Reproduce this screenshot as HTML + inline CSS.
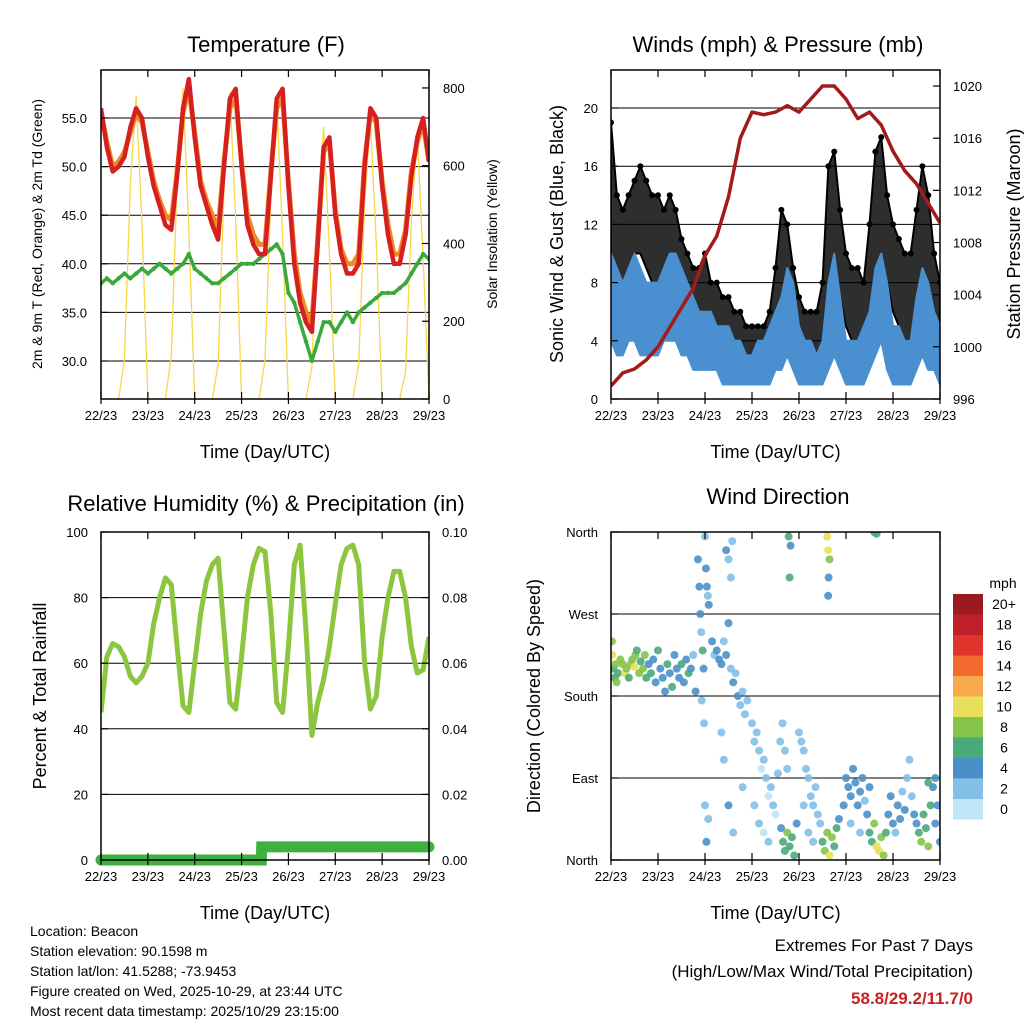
<!DOCTYPE html>
<html><head><meta charset="utf-8"><style>
body{margin:0;background:#fff}
svg{display:block;font-family:"Liberation Sans",sans-serif}
</style></head><body>
<svg id="s" width="1024" height="1024" viewBox="0 0 1024 1024"></svg>
<script>
// ---------- data (3-hourly from 22/23, day offsets) ----------
const dayLabels=["22/23","23/23","24/23","25/23","26/23","27/23","28/23","29/23"];
const tempRed=[56,52,49.5,50,51,54,56,55,51,48,46,44,43.5,49,56,59,53,48,46,44,42.5,50,57,58,50,44,42,41,41,49,57,58,48,40,36,34,33,42,52,53,45,41,39,39,40,50,56,55,48,43,40,40,43,49,53,55,50.5];
const tempOrange=[55.5,52.5,50,50.5,51.5,53.5,55.5,54.5,51.5,48.5,46.5,45,44.5,49.5,55.5,58,53.5,48.5,46.5,45,43.5,50.5,56,57,50.5,45,43,42,42,49.5,56,57,48.5,41,37,35,34,42.5,51.5,52.5,45.5,41.5,40,40,41,50.5,55.5,54.5,48.5,44,41,41,43.5,49.5,52.5,54.5,50.5];
const dewGreen=[38,38.5,38,38.5,39,38.5,39,39.5,39,39.5,40,39.5,39,39.5,40,41,39.5,39,38.5,38,38,38.5,39,39.5,40,40,40,40.5,41,41.5,42,41,37,36,34,32,30,32,34,34,33,34,35,34,35,35.5,36,36.5,37,37,37,37.5,38,39,40,41,40.5];
const solar=[0,0,0,0,100,550,780,450,0,0,0,0,110,560,800,430,0,0,0,0,90,540,790,460,0,0,0,0,100,520,770,420,0,0,0,0,80,480,700,380,0,0,0,0,90,500,720,400,0,0,0,0,70,460,680,360,0];
const windHi=[10,9,8,9,10,9,8,8,8,9,10,10,9,8,7,6,6,6,5,5,5,4,4,3,3,4,4,5,6,7,9,8,5,4,4,3,4,8,10,7,4,4,4,5,6,9,10,8,5,5,4,4,7,9,8,6,5];
const windLo=[4,3,3,4,4,3,3,3,3,4,4,4,3,3,2,2,2,2,2,1,1,1,1,1,1,1,1,1,2,2,3,2,1,1,1,1,1,2,3,2,1,1,1,1,2,3,4,2,1,1,1,1,2,3,2,2,1];
const gustHi=[19,14,13,14,15,16,15,14,14,13,14,13,11,10,9,9,10,8,8,7,7,6,6,5,5,5,5,6,9,13,12,9,7,6,6,6,8,16,17,13,10,9,9,8,12,17,18,14,12,11,10,10,13,16,14,10,8];
const gustLo=[10,8,8,9,10,10,9,8,8,8,9,9,8,7,6,5,5,4,4,3,3,3,2,2,2,3,3,3,5,7,7,5,4,3,3,2,4,8,10,7,5,4,4,4,6,9,10,8,6,5,4,4,6,9,8,6,4];
const pressure=[997,998,998.3,999,1000,1001.5,1003,1004.5,1007,1008.5,1011.5,1016,1018,1017.8,1018,1018.5,1018,1019,1020,1020,1019,1017.5,1018,1017,1015,1013.5,1012.5,1011,1009.5]; // 6-hourly
const rh=[45,62,66,65,62,56,54,56,60,72,80,86,84,65,47,45,60,75,85,90,92,70,48,46,62,80,90,95,94,75,48,45,65,90,96,70,38,48,55,65,78,90,95,96,90,60,46,50,68,80,88,88,80,65,57,58,68];
const precipT=[0,3.42,3.43,7];
const precipV=[0,0,0.004,0.004];
const wdT=[0.02,0.03,0.05,0.08,0.1,0.12,0.15,0.2,0.25,0.3,0.33,0.38,0.42,0.45,0.5,0.52,0.55,0.6,0.63,0.68,0.72,0.75,
0.8,0.85,0.9,0.95,1.0,1.05,1.1,1.15,1.2,1.25,1.3,1.35,1.4,1.45,1.5,1.55,1.6,1.65,1.7,1.75,1.8,
1.85,1.88,1.9,1.92,1.95,1.97,2.0,2.02,2.04,2.06,2.08,1.93,1.98,2.0,2.03,2.07,
2.15,2.2,2.25,2.3,2.35,2.4,2.45,2.5,2.55,2.6,2.65,2.7,2.75,2.8,2.85,2.9,2.45,2.5,2.55,2.58,2.35,2.4,2.5,2.6,2.8,
3.0,3.05,3.1,3.15,3.2,3.25,3.3,3.35,3.4,3.45,3.5,3.55,3.6,3.65,3.7,3.75,3.05,3.15,3.25,3.35,
3.62,3.66,3.7,3.75,3.8,3.85,3.9,3.95,3.78,3.82,3.8,
4.0,4.05,4.1,4.15,4.2,4.25,4.3,4.35,4.4,4.45,4.1,4.2,4.3,
4.5,4.55,4.6,4.65,4.7,4.75,4.8,4.85,4.6,4.62,4.65,4.63,4.62,
4.95,5.0,5.05,5.1,5.15,5.2,5.25,5.3,5.35,5.4,5.45,5.5,5.1,5.3,
5.5,5.55,5.6,5.65,5.7,5.75,5.8,5.85,5.6,5.65,
5.9,5.95,6.0,6.05,6.1,6.15,6.2,6.25,6.3,6.35,6.4,6.45,
6.5,6.55,6.6,6.65,6.7,6.75,6.8,6.85,6.9,6.95,7.0,6.75,6.9];
const wdD=[240,225,210,200,215,195,205,220,215,205,210,200,215,220,212,225,230,205,218,210,225,200,
215,205,220,195,230,210,200,185,215,205,190,225,210,200,215,195,220,205,210,225,185,
330,300,270,250,230,210,355,320,300,290,280,175,150,60,20,45,
240,225,230,220,215,240,225,260,210,195,205,180,170,185,160,175,340,330,310,350,140,110,60,30,80,
150,130,140,120,100,110,90,70,80,60,50,95,130,150,120,100,60,40,30,20,
35,20,10,30,15,25,5,40,355,345,310,
140,130,120,100,90,70,60,80,50,40,60,30,20,
20,10,30,5,25,15,35,45,355,340,330,310,290,
60,90,80,70,100,85,60,75,90,65,50,80,40,30,
30,20,40,15,10,25,5,30,360,358,
50,70,40,30,60,45,75,55,90,110,70,50,
40,30,20,50,35,15,60,80,40,60,20,85,90];
const wdS=[9,10,7,6,8,8,7,8,9,10,8,7,8,9,10,8,7,8,6,9,8,6,
5,6,5,4,6,4,5,4,6,5,6,4,5,4,6,5,4,6,4,3,4,
4,4,4,3,6,4,3,4,4,3,4,3,2,3,4,2,
4,3,4,4,4,3,4,4,3,4,3,4,3,2,3,2,4,3,2,2,3,2,4,2,3,
3,2,2,3,1,2,2,1,2,3,1,2,2,2,3,2,2,3,1,3,
5,6,7,8,6,7,6,5,6,5,6,
2,2,3,2,2,3,2,2,3,2,3,2,3,
6,8,9,10,8,7,6,5,10,10,8,5,4,
4,4,4,4,4,4,4,5,4,3,4,4,2,3,
6,7,8,10,11,9,8,6,7,6,
4,4,4,3,4,4,3,4,3,2,3,4,
5,7,8,6,7,8,6,4,5,4,4,7,4];
const speedBins=["0","2","4","6","8","10","12","14","16","18","20+"];
const speedColors=["#bfe6f7","#84bfe8","#4a90c8","#4aaa78","#84c44a","#e8e05a","#f8a94b","#f26a2d","#e0342c","#c0202a","#9b1a1f"];

// ---------- helpers ----------
const NS="http://www.w3.org/2000/svg";
const S=document.getElementById('s');
function mk(tag,attrs,parent){const e=document.createElementNS(NS,tag);for(const k in attrs)e.setAttribute(k,attrs[k]);(parent||S).appendChild(e);return e;}
function txt(x,y,str,size,anchor,parent,extra){const e=mk('text',Object.assign({x:x,y:y,'font-size':size,'text-anchor':anchor||'middle',fill:'#000'},extra||{}),parent);e.textContent=str;return e;}
function line(x1,y1,x2,y2,w,parent){return mk('line',{x1:x1,y1:y1,x2:x2,y2:y2,stroke:'#000','stroke-width':w||1},parent);}

function panel(id,X0,Y0,X1,Y1){
  const g=mk('g',{});
  
  
  const cp=mk('clipPath',{id:id+'-clip'},g);mk('rect',{x:X0,y:Y0,width:X1-X0,height:Y1-Y0},cp);
  return g;
}
function frame(g,X0,Y0,X1,Y1){
  const r=mk('rect',{x:X0,y:Y0,width:X1-X0,height:Y1-Y0,fill:'none',stroke:'#000','stroke-width':1.5},g);
  
  
  const xs=d=>X0+d*(X1-X0)/7;
  for(let i=0;i<dayLabels.length;i++){
    const x=xs(i);
    line(x,Y1,x,Y1-7,1.2,g);line(x,Y0,x,Y0+7,1.2,g);
    line(x,Y1,x,Y1+5,1.2,g);
    const t=txt(x,Y1+21,dayLabels[i],13,'middle',g);
    
    
  }
  const xt=txt((X0+X1)/2,Y1+59,'Time (Day/UTC)',18,'middle',g);
  
  
}
function hgrid(g,X0,X1,ys){ys.forEach(y=>{const l=line(X0,y,X1,y,1,g);});}
function rotText(x,y,str,size,g){const t=txt(x,y,str,size,'middle',g,{transform:`rotate(-90 ${x} ${y})`});return t;}
function polyl(pts,attrs,g){return mk('polyline',Object.assign({points:pts.map(p=>p[0].toFixed(1)+','+p[1].toFixed(1)).join(' '),fill:'none'},attrs),g);}

// ================= Panel 1: Temperature =================
(function(){
  const X0=101,X1=429,Y0=70,Y1=399;
  const g=panel('temperature',X0,Y0,X1,Y1);
  const xs=d=>X0+d*(X1-X0)/7;
  const yT=v=>361-(v-30)*9.72;
  const ySol=v=>399-v*0.3888;
  const tLabels=[30,35,40,45,50,55];
  const solLabels=[0,200,400,600,800];
  hgrid(g,X0,X1,tLabels.map(yT));
  const c=mk('g',{'clip-path':'url(#temperature-clip)'},g);
  const sol=polyl(solar.map((v,i)=>[xs(i/8),ySol(v)]),{stroke:'#f7d84a','stroke-width':1.3},c);
  
  
  const dp=polyl(dewGreen.map((v,i)=>[xs(i/8),yT(v)]),{stroke:'#3aa83a','stroke-width':3.5,'stroke-linejoin':'round'},c);
  
  
  dewGreen.forEach((v,i)=>{const d=mk('circle',{cx:xs(i/8),cy:yT(v),r:2.2,fill:'#3aa83a'},c);});
  const o=polyl(tempOrange.map((v,i)=>[xs(i/8),yT(v)]),{stroke:'#f08a24','stroke-width':5,'stroke-linejoin':'round'},c);
  
  
  const r=polyl(tempRed.map((v,i)=>[xs(i/8),yT(v)]),{stroke:'#d62020','stroke-width':4.5,'stroke-linejoin':'round'},c);
  
  
  frame(g,X0,Y0,X1,Y1);
  tLabels.forEach(v=>{const y=yT(v);line(X0,y,X0+7,y,1.2,g);const t=txt(X0-14,y+5,v.toFixed(1),13,'end',g);});
  solLabels.forEach(v=>{const y=ySol(v);line(X1,y,X1-7,y,1.2,g);const t=txt(X1+14,y+5,String(v),13,'start',g);});
  const ti=txt(266,52,'Temperature (F)',22,'middle',g);
  
  
  const yt=rotText(42,234,'2m & 9m T (Red, Orange) & 2m Td (Green)',14,g);
  
  
  const y2=rotText(497,234,'Solar Insolation (Yellow)',14,g);
  
  
})();

// ================= Panel 2: Winds & Pressure =================
(function(){
  const X0=611,X1=940,Y0=70,Y1=399;
  const g=panel('winds',X0,Y0,X1,Y1);
  const xs=d=>X0+d*(X1-X0)/7;
  const yW=v=>399-v*14.55;
  const yP=v=>399-(v-996)*13.04;
  const wLabels=[0,4,8,12,16,20];
  const pLabels=[996,1000,1004,1008,1012,1016,1020];
  hgrid(g,X0,X1,wLabels.slice(1).map(yW));
  const c=mk('g',{'clip-path':'url(#winds-clip)'},g);
  const gpts=gustHi.map((v,i)=>[xs(i/8),yW(v)]).concat(gustLo.map((v,i)=>[xs(i/8),yW(v)]).reverse());
  const ga=mk('polygon',{points:gpts.map(p=>p.join(',')).join(' '),fill:'#000','fill-opacity':0.82,'stroke':'#000','stroke-width':2,'stroke-linejoin':'round'},c);
  
  
  gustHi.forEach((v,i)=>{const d=mk('circle',{cx:xs(i/8),cy:yW(v),r:3,fill:'#000'},c);});
  const wpts=windHi.map((v,i)=>[xs(i/8),yW(v)]).concat(windLo.map((v,i)=>[xs(i/8),yW(v)]).reverse());
  const wa=mk('polygon',{points:wpts.map(p=>p.join(',')).join(' '),fill:'#4a90d0',stroke:'#4a90d0','stroke-width':2,'stroke-linejoin':'round'},c);
  
  
  const pl=polyl(pressure.map((v,i)=>[xs(i/4),yP(v)]),{stroke:'#a31a1a','stroke-width':3.5,'stroke-linejoin':'round'},c);
  
  
  frame(g,X0,Y0,X1,Y1);
  wLabels.forEach(v=>{const y=yW(v);line(X0,y,X0+7,y,1.2,g);const t=txt(X0-13,y+5,String(v),13,'end',g);});
  pLabels.forEach(v=>{const y=yP(v);line(X1,y,X1-7,y,1.2,g);const t=txt(X1+13,y+5,String(v),13,'start',g);});
  const ti=txt(778,52,'Winds (mph) & Pressure (mb)',22,'middle',g);
  
  
  const yt=rotText(563,234,'Sonic Wind & Gust (Blue, Black)',18,g);
  
  
  const y2=rotText(1020,234,'Station Pressure (Maroon)',18,g);
  
  
})();

// ================= Panel 3: RH & Precip =================
(function(){
  const X0=101,X1=429,Y0=532,Y1=860;
  const g=panel('humidity',X0,Y0,X1,Y1);
  const xs=d=>X0+d*(X1-X0)/7;
  const yR=v=>860-v*3.28;
  const yPr=v=>860-v*3280;
  const rLabels=[0,20,40,60,80,100];
  const prLabels=["0.00","0.02","0.04","0.06","0.08","0.10"];
  hgrid(g,X0,X1,[20,40,60,80].map(yR));
  const c=mk('g',{'clip-path':'url(#humidity-clip)'},g);
  const rl=polyl(rh.map((v,i)=>[xs(i/8),yR(v)]),{stroke:'#8cc63f','stroke-width':5,'stroke-linejoin':'round'},c);
  
  
  const pr=polyl(precipV.map((v,i)=>[xs(precipT[i]),yPr(v)]),{stroke:'#3eb03e','stroke-width':11,'stroke-linecap':'round'},g);
  
  
  frame(g,X0,Y0,X1,Y1);
  rLabels.forEach(v=>{const y=yR(v);line(X0,y,X0+7,y,1.2,g);const t=txt(X0-13,y+5,String(v),13,'end',g);});
  prLabels.forEach(s=>{const y=yPr(parseFloat(s));line(X1,y,X1-7,y,1.2,g);const t=txt(X1+13,y+5,s,13,'start',g);});
  const ti=txt(266,511,'Relative Humidity (%) & Precipitation (in)',22,'middle',g);
  
  
  const yt=rotText(46,696,'Percent & Total Rainfall',18,g);
  
  
})();

// ================= Panel 4: Wind direction =================
(function(){
  const X0=611,X1=940,Y0=532,Y1=860;
  const g=panel('direction',X0,Y0,X1,Y1);
  const xs=d=>X0+d*(X1-X0)/7;
  const yD=v=>860-v*328/360;
  const dirLabels=["North","East","South","West","North"];
  hgrid(g,X0,X1,[90,180,270].map(yD));
  const c=mk('g',{'clip-path':'url(#direction-clip)'},g);
  wdT.forEach((t,i)=>{const b=Math.min(10,Math.floor(wdS[i]/2));
    const d=mk('circle',{cx:xs(t),cy:yD(wdD[i]),r:4,fill:speedColors[b],'fill-opacity':0.9},c);
    
    });
  frame(g,X0,Y0,X1,Y1);
  dirLabels.forEach((s,i)=>{const y=yD(i*90);line(X0,y,X0+7,y,1.2,g);const t=txt(X0-13,y+5,s,13,'end',g);});
  const ti=txt(778,504,'Wind Direction',22,'middle',g);
  
  
  const yt=rotText(540,696,'Direction (Colored By Speed)',18,g);
  
  
  const cb=mk('g',{},g);
  
  
  const mt=txt(1003,588,'mph',14,'middle',cb);
  
  
  for(let k=0;k<speedBins.length;k++){
    const j=speedBins.length-1-k;
    const y=594+k*20.5;
    const r=mk('rect',{x:953,y:y,width:30,height:20.5,fill:speedColors[j]},cb);
    
    
    const t=txt(1004,y+15,speedBins[j],14,'middle',cb);
    
    
  }
})();

// ================= footer text =================
const infoLines=["Location: Beacon","Station elevation: 90.1598 m","Station lat/lon: 41.5288; -73.9453","Figure created on Wed, 2025-10-29, at 23:44 UTC","Most recent data timestamp: 2025/10/29 23:15:00"];
infoLines.forEach((s,i)=>{const t=txt(30,936+i*20,s,14,'start');});
const e1=txt(973,951,'Extremes For Past 7 Days',17,'end');


const e2=txt(973,977,'(High/Low/Max Wind/Total Precipitation)',17,'end');


const e3=txt(973,1004,'58.8/29.2/11.7/0',17,'end',null,{fill:'#cc1f1f','font-weight':'bold'});


</script>
</body></html>
